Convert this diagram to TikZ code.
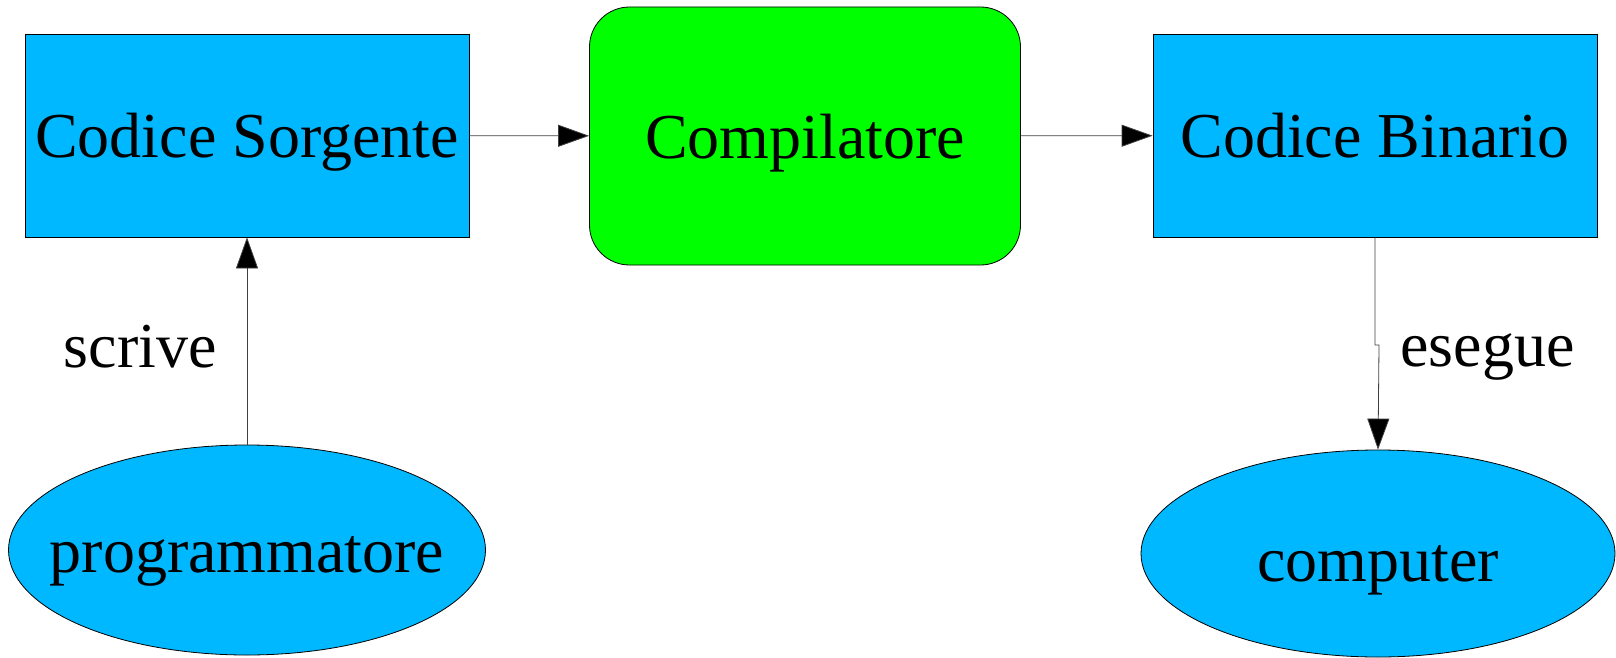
\documentclass[tikz,border=0pt]{standalone}
\usepackage{fontspec}
\setmainfont{Liberation Serif}
\usepackage{tikz}
\usetikzlibrary{positioning, arrows.meta, shapes.geometric}
\definecolor{codeblue}{HTML}{00B8FF}
\definecolor{compgreen}{HTML}{00FF00}

\begin{document}
\begin{tikzpicture}[x=1pt, y=-1pt,
    every node/.style={font=\fontsize{64}{76}\selectfont, text depth=0pt},
    codebox/.style={rectangle, fill=codeblue, draw=black, line width=0.8pt,
                    minimum width=444pt, minimum height=203pt, inner sep=0pt},
    compbox/.style={rectangle, fill=compgreen, draw=black, line width=0.8pt, rounded corners=40pt,
                    minimum width=431pt, minimum height=258pt, inner sep=0pt},
    actor/.style={ellipse, fill=codeblue, draw=black, line width=0.8pt, inner sep=0pt},
    flow/.style={draw=black!75, line width=0.8pt, -{Triangle[length=31pt, width=22pt, fill=black]}},
    flowlabel/.style={inner sep=0pt}]
    \useasboundingbox (0,0) rectangle (1616,658);
    \node[codebox] (sorgente) at (247,135.5) {Codice Sorgente};
    \node[compbox] (compilatore) at (805,136) {Compilatore};
    \node[codebox] (binario) at (1375,135.5) {Codice Binario};
    \node[actor, inner xsep=-30pt, text height=45pt, minimum width=477pt, minimum height=210pt] (programmatore) at (247,550) {programmatore};
    \node[actor, text height=56pt, minimum width=474pt, minimum height=207pt] (computer) at (1378,553.5) {computer};
    \coordinate (kink) at (1379,345);
    \draw[flow] (sorgente) -- (compilatore);
    \draw[flow] (compilatore) -- (binario);
    \draw[flow] (programmatore.north) -- node[flowlabel, pos=0.37, anchor=base east, xshift=-30pt] {scrive} (sorgente.south);
    \draw[flow] (binario.south) |- (kink) node[flowlabel, anchor=base west, xshift=21pt, yshift=-21pt] {esegue} -- (computer.north);
\end{tikzpicture}
\end{document}
